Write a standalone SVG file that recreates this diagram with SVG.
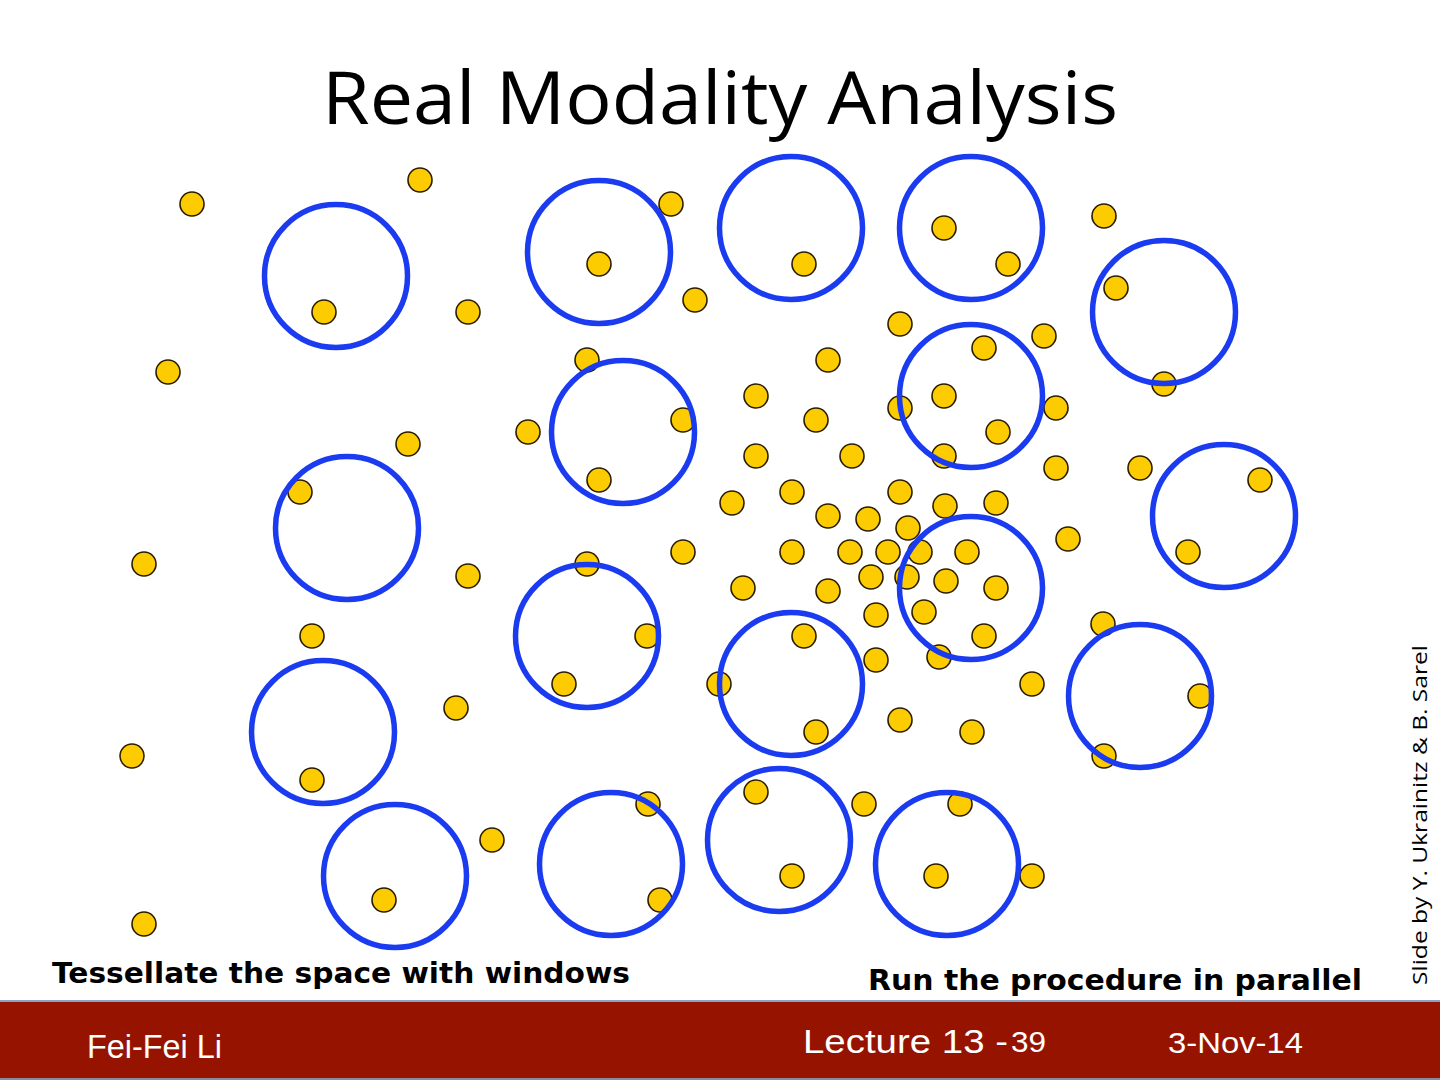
<svg xmlns="http://www.w3.org/2000/svg" width="1440" height="1080" viewBox="0 0 1440 1080">
<style>
.dot{fill:#FCCB00;stroke:#2a1d00;stroke-width:1.6}
.win{fill:none;stroke:#1B3BF0;stroke-width:5.5}
.title{font-family:"Open Sans","Liberation Sans",sans-serif;font-size:74px;fill:#000}
.cap{font-family:"DejaVu Sans","Liberation Sans",sans-serif;font-weight:bold;font-size:28px;fill:#000}
.foot{font-family:"Liberation Sans Narrow","Liberation Sans",sans-serif;fill:#fff}
</style>
<rect width="1440" height="1080" fill="#fff"/>
<text class="title" x="720" y="124" text-anchor="middle" textLength="796" lengthAdjust="spacingAndGlyphs">Real Modality Analysis</text>
<g id="points">
<circle class="dot" cx="192" cy="204" r="12"/>
<circle class="dot" cx="420" cy="180" r="12"/>
<circle class="dot" cx="671" cy="204" r="12"/>
<circle class="dot" cx="1104" cy="216" r="12"/>
<circle class="dot" cx="944" cy="228" r="12"/>
<circle class="dot" cx="599" cy="264" r="12"/>
<circle class="dot" cx="804" cy="264" r="12"/>
<circle class="dot" cx="1008" cy="264" r="12"/>
<circle class="dot" cx="1116" cy="288" r="12"/>
<circle class="dot" cx="324" cy="312" r="12"/>
<circle class="dot" cx="468" cy="312" r="12"/>
<circle class="dot" cx="695" cy="300" r="12"/>
<circle class="dot" cx="900" cy="324" r="12"/>
<circle class="dot" cx="1044" cy="336" r="12"/>
<circle class="dot" cx="984" cy="348" r="12"/>
<circle class="dot" cx="168" cy="372" r="12"/>
<circle class="dot" cx="587" cy="360" r="12"/>
<circle class="dot" cx="828" cy="360" r="12"/>
<circle class="dot" cx="1164" cy="384" r="12"/>
<circle class="dot" cx="756" cy="396" r="12"/>
<circle class="dot" cx="944" cy="396" r="12"/>
<circle class="dot" cx="900" cy="408" r="12"/>
<circle class="dot" cx="1056" cy="408" r="12"/>
<circle class="dot" cx="816" cy="420" r="12"/>
<circle class="dot" cx="683" cy="420" r="12"/>
<circle class="dot" cx="528" cy="432" r="12"/>
<circle class="dot" cx="408" cy="444" r="12"/>
<circle class="dot" cx="998" cy="432" r="12"/>
<circle class="dot" cx="756" cy="456" r="12"/>
<circle class="dot" cx="852" cy="456" r="12"/>
<circle class="dot" cx="944" cy="456" r="12"/>
<circle class="dot" cx="1056" cy="468" r="12"/>
<circle class="dot" cx="1140" cy="468" r="12"/>
<circle class="dot" cx="1260" cy="480" r="12"/>
<circle class="dot" cx="599" cy="480" r="12"/>
<circle class="dot" cx="300" cy="492" r="12"/>
<circle class="dot" cx="792" cy="492" r="12"/>
<circle class="dot" cx="900" cy="492" r="12"/>
<circle class="dot" cx="732" cy="503" r="12"/>
<circle class="dot" cx="945" cy="506" r="12"/>
<circle class="dot" cx="996" cy="503" r="12"/>
<circle class="dot" cx="828" cy="516" r="12"/>
<circle class="dot" cx="868" cy="519" r="12"/>
<circle class="dot" cx="908" cy="528" r="12"/>
<circle class="dot" cx="1068" cy="539" r="12"/>
<circle class="dot" cx="144" cy="564" r="12"/>
<circle class="dot" cx="587" cy="564" r="12"/>
<circle class="dot" cx="683" cy="552" r="12"/>
<circle class="dot" cx="792" cy="552" r="12"/>
<circle class="dot" cx="850" cy="552" r="12"/>
<circle class="dot" cx="888" cy="552" r="12"/>
<circle class="dot" cx="920" cy="552" r="12"/>
<circle class="dot" cx="967" cy="552" r="12"/>
<circle class="dot" cx="1188" cy="552" r="12"/>
<circle class="dot" cx="468" cy="576" r="12"/>
<circle class="dot" cx="871" cy="577" r="12"/>
<circle class="dot" cx="907" cy="577" r="12"/>
<circle class="dot" cx="946" cy="581" r="12"/>
<circle class="dot" cx="996" cy="588" r="12"/>
<circle class="dot" cx="743" cy="588" r="12"/>
<circle class="dot" cx="828" cy="591" r="12"/>
<circle class="dot" cx="876" cy="615" r="12"/>
<circle class="dot" cx="924" cy="612" r="12"/>
<circle class="dot" cx="1103" cy="624" r="12"/>
<circle class="dot" cx="312" cy="636" r="12"/>
<circle class="dot" cx="647" cy="636" r="12"/>
<circle class="dot" cx="804" cy="636" r="12"/>
<circle class="dot" cx="984" cy="636" r="12"/>
<circle class="dot" cx="876" cy="660" r="12"/>
<circle class="dot" cx="939" cy="657" r="12"/>
<circle class="dot" cx="564" cy="684" r="12"/>
<circle class="dot" cx="719" cy="684" r="12"/>
<circle class="dot" cx="1032" cy="684" r="12"/>
<circle class="dot" cx="1200" cy="696" r="12"/>
<circle class="dot" cx="456" cy="708" r="12"/>
<circle class="dot" cx="900" cy="720" r="12"/>
<circle class="dot" cx="816" cy="732" r="12"/>
<circle class="dot" cx="972" cy="732" r="12"/>
<circle class="dot" cx="132" cy="756" r="12"/>
<circle class="dot" cx="1104" cy="756" r="12"/>
<circle class="dot" cx="312" cy="780" r="12"/>
<circle class="dot" cx="756" cy="792" r="12"/>
<circle class="dot" cx="648" cy="804" r="12"/>
<circle class="dot" cx="864" cy="804" r="12"/>
<circle class="dot" cx="960" cy="804" r="12"/>
<circle class="dot" cx="492" cy="840" r="12"/>
<circle class="dot" cx="792" cy="876" r="12"/>
<circle class="dot" cx="936" cy="876" r="12"/>
<circle class="dot" cx="1032" cy="876" r="12"/>
<circle class="dot" cx="384" cy="900" r="12"/>
<circle class="dot" cx="660" cy="900" r="12"/>
<circle class="dot" cx="144" cy="924" r="12"/>
</g>
<g id="windows">
<circle id="w1" class="win" cx="336" cy="276" r="71.5"/>
<circle id="w2" class="win" cx="599" cy="252" r="71.5"/>
<circle id="w3" class="win" cx="791" cy="228" r="71.5"/>
<circle id="w4" class="win" cx="971" cy="228" r="71.5"/>
<circle id="w5" class="win" cx="1164" cy="312" r="71.5"/>
<circle id="w6" class="win" cx="623" cy="432" r="71.5"/>
<circle id="w7" class="win" cx="971" cy="396" r="71.5"/>
<circle id="w8" class="win" cx="347" cy="528" r="71.5"/>
<circle id="w9" class="win" cx="1224" cy="516" r="71.5"/>
<circle id="w10" class="win" cx="971" cy="588" r="71.5"/>
<circle id="w11" class="win" cx="587" cy="636" r="71.5"/>
<circle id="w12" class="win" cx="791" cy="684" r="71.5"/>
<circle id="w13" class="win" cx="1140" cy="696" r="71.5"/>
<circle id="w14" class="win" cx="323" cy="732" r="71.5"/>
<circle id="w15" class="win" cx="395" cy="876" r="71.5"/>
<circle id="w16" class="win" cx="611" cy="864" r="71.5"/>
<circle id="w17" class="win" cx="779" cy="840" r="71.5"/>
<circle id="w18" class="win" cx="947" cy="864" r="71.5"/>
</g>
<text class="cap" x="52" y="983" textLength="578" lengthAdjust="spacingAndGlyphs">Tessellate the space with windows</text>
<text class="cap" x="868" y="990" textLength="494" lengthAdjust="spacingAndGlyphs">Run the procedure in parallel</text>
<text x="1427" y="985" transform="rotate(-90 1427 985)" font-family="'Open Sans','Liberation Sans',sans-serif" font-size="20" fill="#000" textLength="340" lengthAdjust="spacingAndGlyphs">Slide by Y. Ukrainitz &amp; B. Sarel</text>
<g id="footer">
<rect x="0" y="1000" width="1440" height="80" fill="#961300"/>
<line x1="0" y1="1001" x2="1440" y2="1001" stroke="#8aa4c8" stroke-width="2"/>
<line x1="0" y1="1079" x2="1440" y2="1079" stroke="#8a8a9a" stroke-width="2"/>
<text class="foot" x="87" y="1058" font-size="33" textLength="135" lengthAdjust="spacingAndGlyphs">Fei-Fei Li</text>
<text class="foot" x="803" y="1053" font-size="33" textLength="205" lengthAdjust="spacingAndGlyphs">Lecture 13 -</text>
<text class="foot" x="1011" y="1052" font-size="29" textLength="35" lengthAdjust="spacingAndGlyphs">39</text>
<text class="foot" x="1168" y="1053" font-size="29" textLength="135" lengthAdjust="spacingAndGlyphs">3-Nov-14</text>
</g>
</svg>
